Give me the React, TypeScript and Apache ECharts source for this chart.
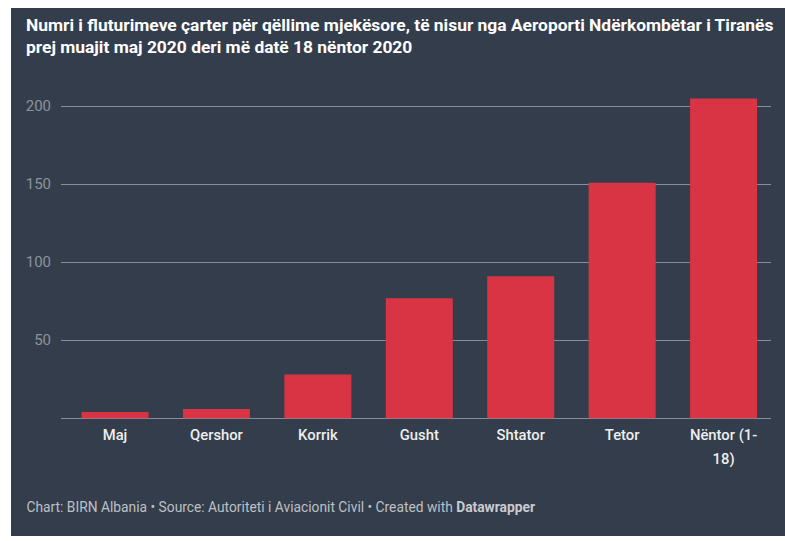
import React, { useEffect, useRef } from "react";
import * as echarts from "echarts";

const categories = ["Maj", "Qershor", "Korrik", "Gusht", "Shtator", "Tetor", "Nëntor (1-18)"];
const flights = [4, 6, 28, 77, 91, 151, 205];
const yTicks = [0, 50, 100, 150, 200];

const titleText =
  "Numri i fluturimeve çarter për qëllime mjekësore, të nisur nga Aeroporti Ndërkombëtar i Tiranës\nprej muajit maj 2020 deri më datë 18 nëntor 2020";
const footerText = "Chart: BIRN Albania • Source: Autoriteti i Aviacionit Civil • Created with ";
const footerBold = "Datawrapper";

const BG = "#343d4b";
const BAR = "#d83444";
const GRIDLINE = "#868d97";
const FONT = "Roboto, 'Noto Sans', sans-serif";

export default function App() {
  const ref = useRef<HTMLDivElement>(null);
  useEffect(() => {
    if (!ref.current) return;
    const chart = echarts.init(ref.current, undefined, { renderer: "svg" });
    const zeroY = 418.3;
    const pxPerUnit = 312 / 200;
    const barMax = 220;
    const yMax = yTicks[yTicks.length - 1];
    chart.setOption({
      animation: false,
      backgroundColor: "#ffffff",
      textStyle: { fontFamily: FONT },
      title: {
        text: titleText,
        left: 26,
        top: 13.5,
        padding: 0,
        textStyle: { color: "#ffffff", fontSize: 17.4, fontWeight: "bold", lineHeight: 22, fontFamily: FONT },
      },
      graphic: [
        {
          type: "rect",
          z: -10,
          silent: true,
          shape: { x: 11, y: 8, width: 774, height: 528 },
          style: { fill: BG },
        },
        {
          type: "text",
          x: 26.5,
          y: 507,
          style: {
            text: `{a|${footerText}}{b|${footerBold}}`,
            verticalAlign: "middle",
            rich: {
              a: { fontSize: 13.8, fill: "#bcc0c6", fontFamily: FONT },
              b: { fontSize: 13.8, fill: "#c8cbd0", fontWeight: "bold", fontFamily: FONT },
            },
          },
        },
      ],
      grid: [
        { left: 61, width: 710, top: zeroY - yMax * pxPerUnit, height: yMax * pxPerUnit },
        { left: 64.3, width: 710, top: zeroY - barMax * pxPerUnit, height: barMax * pxPerUnit },
      ],
      xAxis: [
        { gridIndex: 0, type: "value", show: false },
        {
          gridIndex: 1,
          type: "category",
          data: categories,
          axisLine: { show: false },
          axisTick: { show: false },
          axisLabel: {
            color: "#eeeeee",
            fontSize: 14.8,
            fontWeight: 500,
            lineHeight: 24,
            margin: 5,
            interval: 0,
            fontFamily: FONT,
            formatter: (v: string) => v.replace("(1-", "(1-\n"),
          },
        },
      ],
      yAxis: [
        {
          gridIndex: 0,
          type: "value",
          min: yTicks[0],
          max: yMax,
          interval: 50,
          axisLine: { show: false },
          axisTick: { show: false },
          axisLabel: {
            color: "#8c939c",
            fontSize: 15,
            margin: 10,
            fontFamily: FONT,
            formatter: (v: number) => (v === 0 ? "" : String(v)),
          },
          splitLine: { show: true, lineStyle: { color: GRIDLINE, width: 1 } },
        },
        { gridIndex: 1, type: "value", min: 0, max: barMax, show: false, splitLine: { show: false } },
      ],
      series: [
        {
          type: "bar",
          xAxisIndex: 1,
          yAxisIndex: 1,
          data: flights,
          barWidth: 67,
          itemStyle: { color: BAR },
          z: 5,
        },
      ],
    });
    return () => chart.dispose();
  }, []);
  return <div ref={ref} style={{ position: "fixed", left: 0, top: 0, width: 785, height: 541 }} />;
}
